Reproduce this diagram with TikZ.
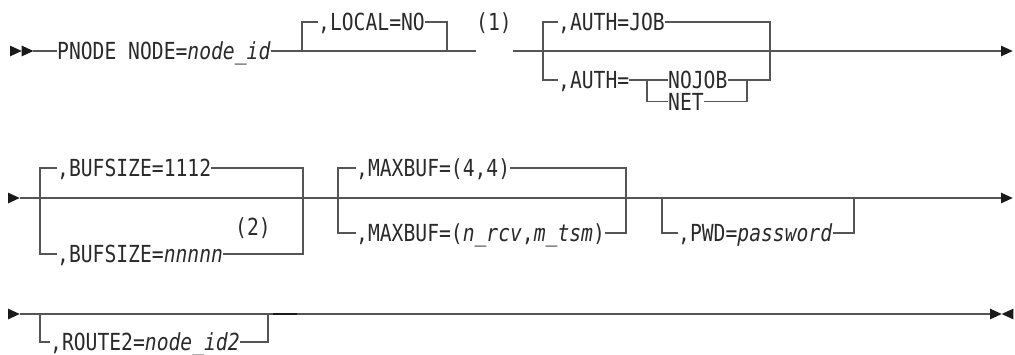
\documentclass[tikz,border=0pt]{standalone}
\usepackage{fontspec}
\newfontfamily\dmono[FakeStretch=0.837]{DejaVu Sans Mono}
\usetikzlibrary{calc}
\definecolor{linec}{HTML}{555555}
\definecolor{textc}{HTML}{2A2A2A}
\definecolor{arrc}{HTML}{1A1A1A}
\tikzset{
  rail/.style={draw=linec, line width=1.2pt},
  lbl/.style={font=\dmono\fontsize{23.5}{23.5}\selectfont, text=textc, inner sep=0pt, anchor=base west},
  note/.style={font=\dmono\fontsize{23.5}{23.5}\selectfont, text=textc, inner sep=0pt, anchor=base},
  tip/.style={fill=arrc}
}
\begin{document}
\begin{tikzpicture}[x=1pt,y=-1pt]
\useasboundingbox (0,0) rectangle (1015,354);
% ---------------- Row 1 ----------------
\fill[tip] (10,45.6) -- (21.7,51) -- (10,56.4) -- cycle;
\fill[tip] (21.7,45.6) -- (33.4,51) -- (21.7,56.4) -- cycle;
\coordinate (s1) at (33.4,51);
\node[lbl] (pnode) at (57,59.5) {PNODE NODE=\textit{node\_id}};
\coordinate (g1) at (476,51);
\coordinate (r1) at (513,51);
\coordinate (e1) at (1002,51);
\draw[rail] (s1) -- (s1 -| pnode.west);
\draw[rail] (s1 -| pnode.east) -- (g1);
% LOCAL
\coordinate (la) at (302,51);
\coordinate (lb) at (447,51);
\node[lbl] (local) at (318,30.5) {,LOCAL=NO};
\draw[rail] (la) |- (local.west |- 0,22);
\draw[rail] (local.east |- 0,22) -| (lb);
\node[note] (n1) at (494,30.5) {(1)};
% AUTH
\draw[rail] (r1) -- (e1);
\fill[tip] (1001,45.6) -- (1012.7,51) -- (1001,56.4) -- cycle;
\coordinate (aa) at (543,51);
\coordinate (ab) at (770,51);
\node[lbl] (authjob) at (558,30.5) {,AUTH=JOB};
\node[lbl] (auth) at (558,88.5) {,AUTH=};
\node[lbl] (nojob) at (668,88) {NOJOB};
\node[lbl] (net) at (668,110) {NET};
\coordinate (ia) at (647,80);
\coordinate (ib) at (747,80);
\draw[rail] (authjob.west |- 0,22) -| (aa) |- (auth.west |- 0,80);
\draw[rail] (authjob.east |- 0,22) -| (ab) |- (nojob.east |- 0,80);
\draw[rail] (auth.east |- 0,80) -- (nojob.west |- 0,80);
\draw[rail] (ia) |- (net.west |- 0,101.5);
\draw[rail] (net.east |- 0,101.5) -| (ib);
% ---------------- Row 2 ----------------
\fill[tip] (8,192.6) -- (19.7,198) -- (8,203.4) -- cycle;
\coordinate (s2) at (19.7,198);
\coordinate (e2) at (1002,198);
\draw[rail] (s2) -- (e2);
\fill[tip] (1001,192.6) -- (1012.7,198) -- (1001,203.4) -- cycle;
% BUFSIZE
\coordinate (ba) at (40,198);
\coordinate (bb) at (303,198);
\node[lbl] (buf1) at (57,176.5) {,BUFSIZE=1112};
\node[lbl] (buf2) at (57,262.5) {,BUFSIZE=\textit{nnnnn}};
\node[note] (n2) at (253,235) {(2)};
\draw[rail] (buf1.west |- 0,168) -| (ba) |- (buf2.west |- 0,254);
\draw[rail] (buf1.east |- 0,168) -| (bb) |- (buf2.east |- 0,254);
% MAXBUF
\coordinate (ma) at (338,198);
\coordinate (mb) at (626,198);
\node[lbl] (max1) at (356,176.5) {,MAXBUF=(4,4)};
\node[lbl] (max2) at (356,241.5) {,MAXBUF=(\textit{n\_rcv},\textit{m\_tsm})};
\draw[rail] (max1.west |- 0,168) -| (ma) |- (max2.west |- 0,233);
\draw[rail] (max1.east |- 0,168) -| (mb) |- (max2.east |- 0,233);
% PWD
\coordinate (pa) at (662,198);
\coordinate (pb) at (854,198);
\node[lbl] (pwd) at (678,241.5) {,PWD=\textit{password}};
\draw[rail] (pa) |- (pwd.west |- 0,233);
\draw[rail] (pwd.east |- 0,233) -| (pb);
% ---------------- Row 3 ----------------
\fill[tip] (8,308.6) -- (19.7,314) -- (8,319.4) -- cycle;
\coordinate (s3) at (19.7,314);
\coordinate (e3) at (990,314);
\draw[rail] (s3) -- (e3);
\coordinate (ra) at (40,314);
\coordinate (rb) at (268,314);
\node[lbl] (route) at (50,350.5) {,ROUTE2=\textit{node\_id2}};
\draw[rail] (ra) |- (route.west |- 0,342);
\draw[rail] (route.east |- 0,342) -| (rb);
\coordinate (k1) at (273,314);
\coordinate (k2) at (297,314);
\draw[draw=arrc, line width=2pt] (k1) -- (k2);
\fill[tip] (990,308.6) -- (1001.7,314) -- (990,319.4) -- cycle;
\fill[tip] (1013.4,308.6) -- (1001.7,314) -- (1013.4,319.4) -- cycle;
\end{tikzpicture}
\end{document}
